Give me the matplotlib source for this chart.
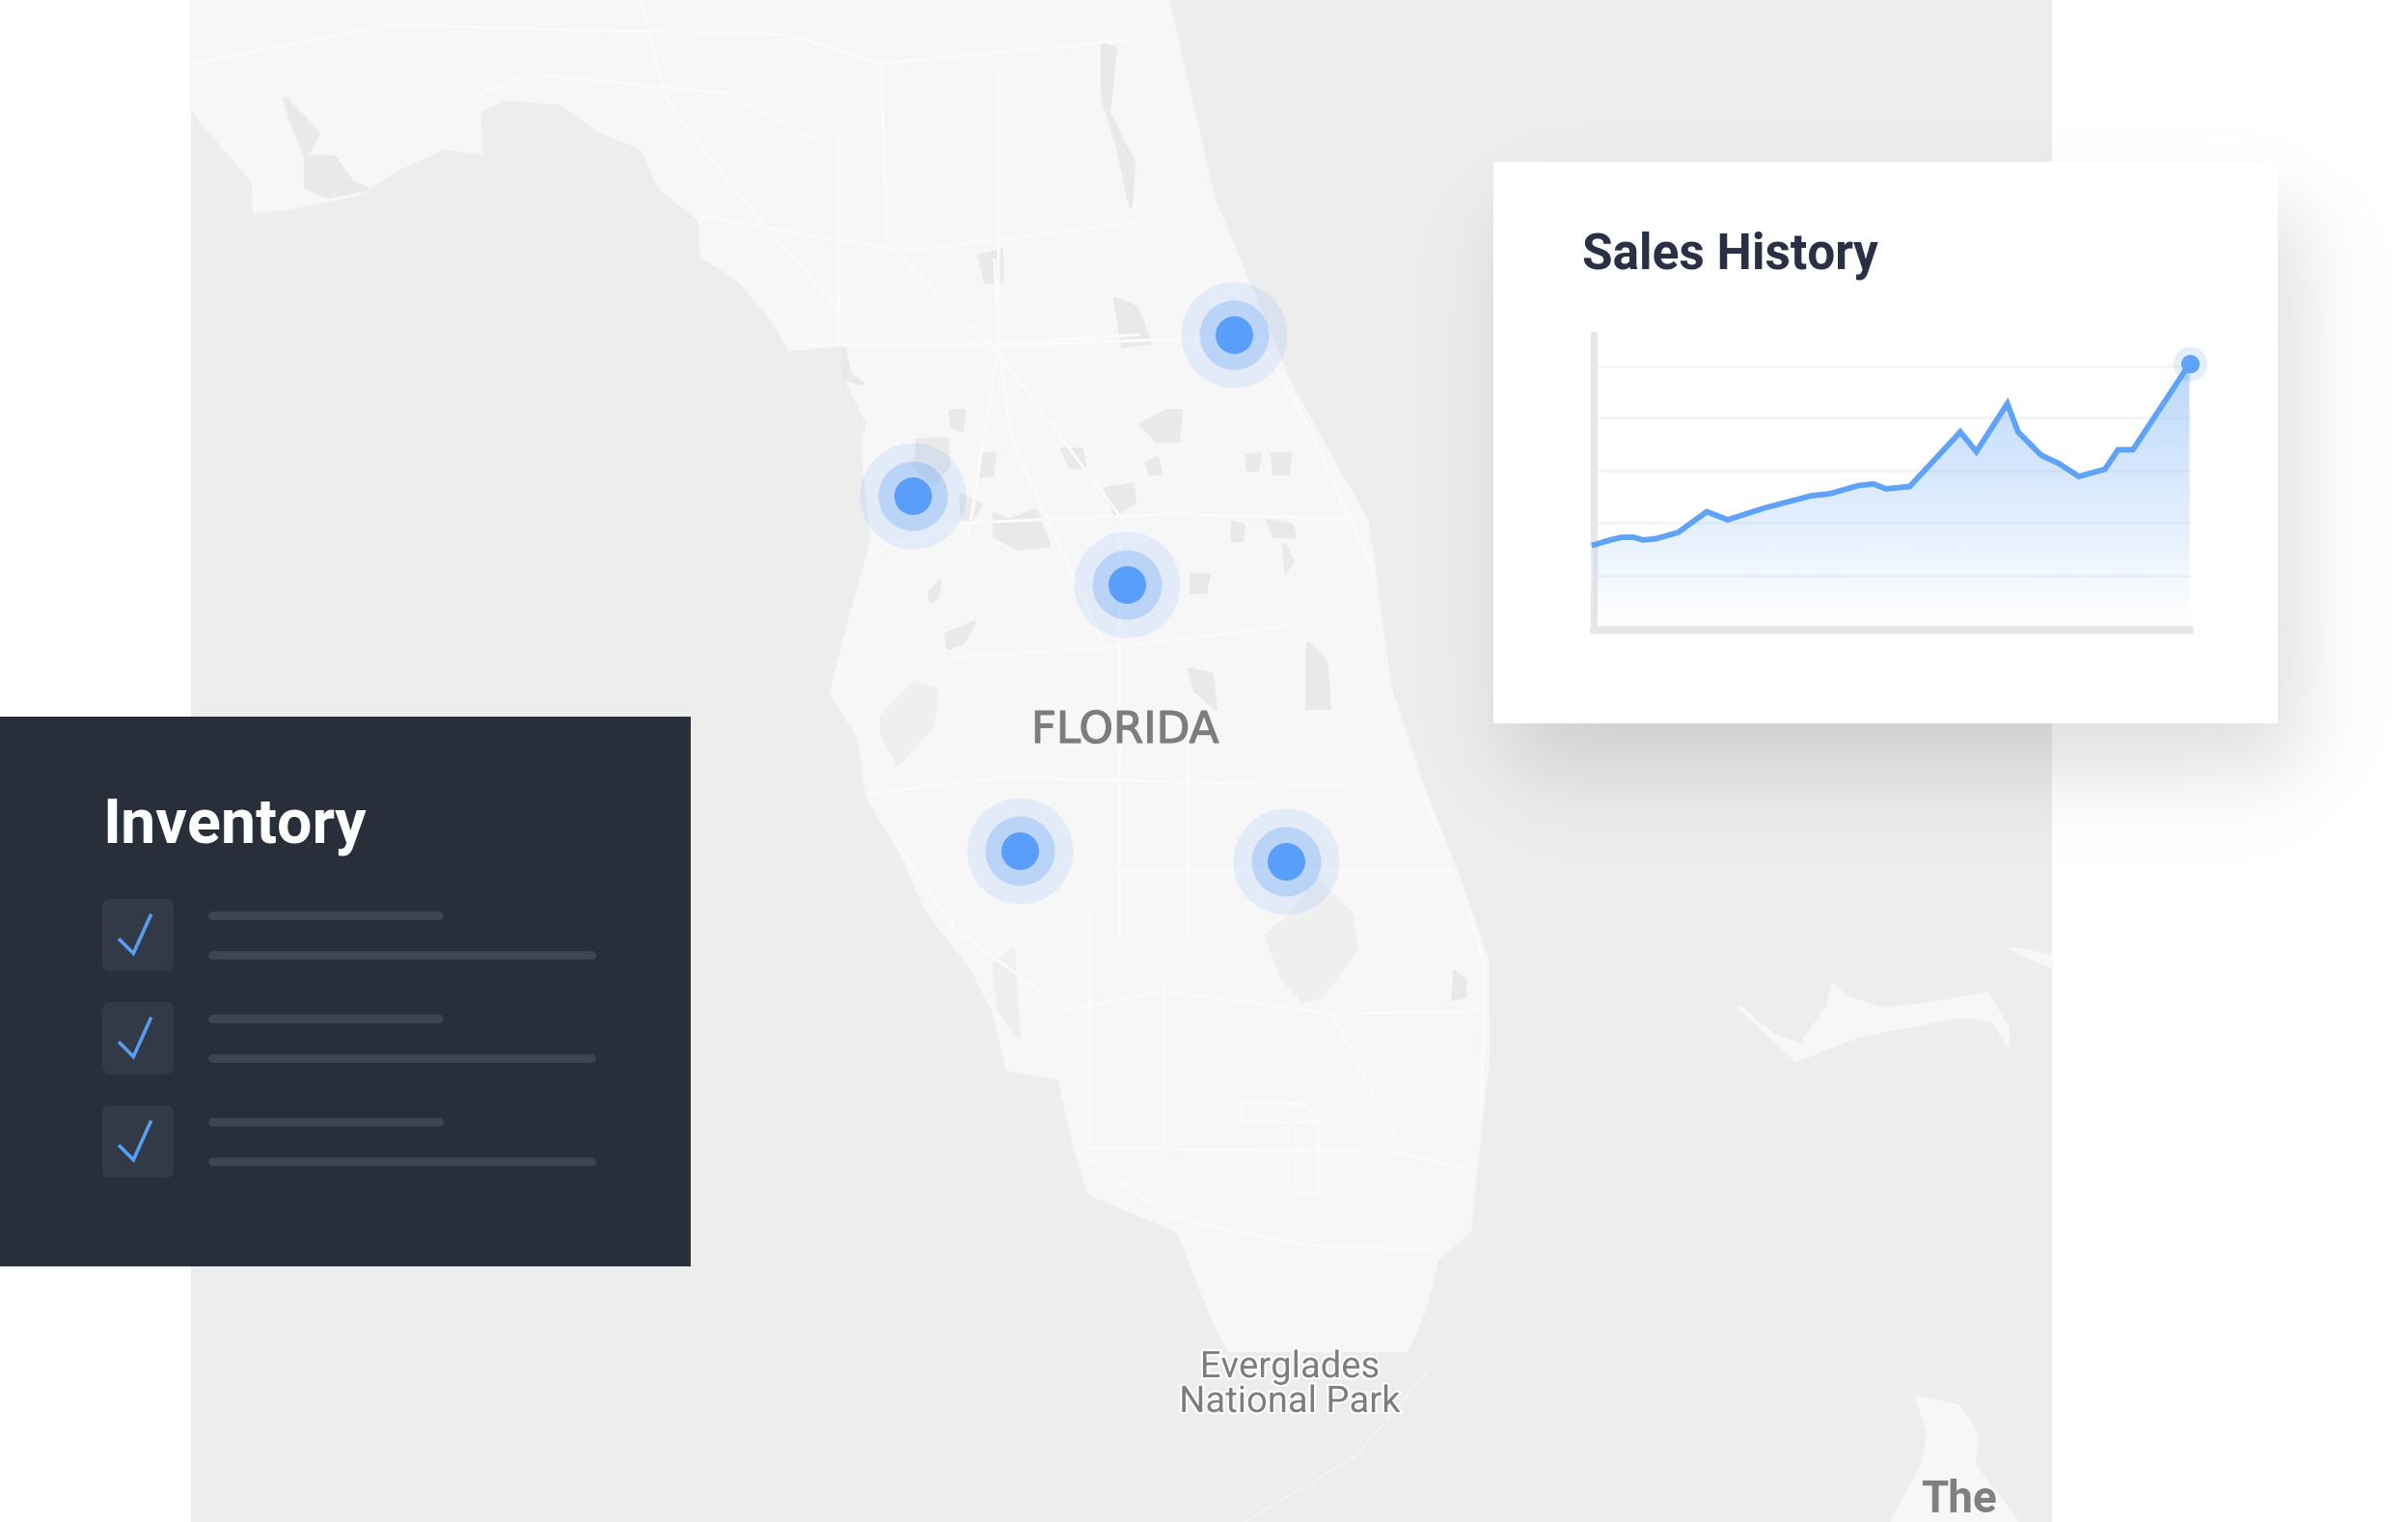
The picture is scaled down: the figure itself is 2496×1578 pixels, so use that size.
import numpy as np
import matplotlib
matplotlib.use("Agg")
import matplotlib.pyplot as plt
import matplotlib.patheffects as pe
from matplotlib.patches import Polygon, Rectangle, FancyBboxPatch

# ---------------------------------------------------------
# DATA
# ---------------------------------------------------------

# sales history line, x in percent of the period, y in percent of top gridline
sales_x = [0, 2.2, 4.5, 6.5, 8.2, 10.4, 14.1, 18.9, 22.4, 28.6, 36.5, 39.5, 44.3, 46.9,
           49, 53, 61.5, 64.2, 69.4, 71.2, 75.1, 78.1, 81.4, 85.8, 88, 90.5, 100]
sales_y = [31.7, 33.2, 34.5, 34.6, 33.5, 34.0, 36.4, 44.3, 41.2, 45.7, 50.4, 51.1, 54.2, 54.9,
           53.0, 53.9, 74.7, 67.2, 85.5, 74.7, 65.8, 62.6, 57.7, 60.5, 67.9, 67.9, 100.6]
grid_y = [100, 80, 60, 40, 20]

# store locations on the map
city_x = [1279, 946, 1168, 1057, 1333]
city_y = [347, 514, 606, 882, 893]

# map shapes, in image pixels
land_x = [198, 263, 264, 307, 371, 416, 460, 499, 496, 524, 582, 620, 665, 684, 725, 728, 767, 805, 818,
          875, 875, 900, 894, 904, 881, 862, 891, 899, 934, 961, 1007, 1030, 1045, 1098, 1114, 1129, 1221,
          1259, 1274, 1458, 1477, 1489, 1523, 1531, 1542, 1542, 1515, 1473, 1441, 1417, 1337, 1258, 1210, 198]
land_y = [112, 189, 219, 214, 201, 173, 153, 158, 115, 102, 107, 135, 153, 194, 227, 265, 291, 337, 362,
          357, 388, 439, 459, 561, 643, 719, 765, 825, 884, 944, 1003, 1048, 1108, 1118, 1187, 1237, 1276,
          1371, 1400, 1400, 1356, 1306, 1276, 1197, 1098, 998, 919, 812, 716, 541, 398, 207, 0, 0]

islands = [
    [(1804, 1045), (1837, 1073), (1867, 1084), (1895, 1043), (1900, 1021), (1913, 1034), (1954, 1047),
     (2020, 1038), (2060, 1030), (2081, 1066), (2081, 1082), (2065, 1058), (2035, 1053), (1928, 1073), (1862, 1099)],
    [(2086, 984), (2126, 991), (2126, 1002)],
    [(1987, 1449), (2030, 1458), (2050, 1488), (2045, 1518), (2091, 1578), (1961, 1578), (1994, 1518), (1999, 1484)],
]

lakes = [
    [(1031, 533), (1046, 540), (1074, 529), (1087, 565), (1056, 569), (1031, 556)],
    [(951, 457), (981, 455), (983, 484), (967, 502), (949, 484)],
    [(996, 513), (1017, 524), (1006, 540), (998, 538)],
    [(1019, 471), (1031, 471), (1028, 493), (1017, 493)],
    [(985, 426), (999, 426), (997, 446), (987, 442)],
    [(981, 658), (1010, 645), (999, 665), (983, 672)],
    [(964, 614), (974, 603), (971, 620), (965, 623)],
    [(1146, 507), (1174, 502), (1176, 520), (1156, 533)],
    [(1189, 480), (1199, 475), (1203, 491), (1192, 491)],
    [(1183, 440), (1210, 426), (1224, 426), (1221, 457), (1199, 457)],
    [(1101, 466), (1121, 466), (1124, 484), (1110, 484)],
    [(1156, 310), (1178, 319), (1192, 355), (1164, 359)],
    [(1319, 471), (1337, 471), (1335, 491), (1321, 491)],
    [(1292, 473), (1306, 471), (1303, 487), (1294, 487)],
    [(1278, 542), (1289, 545), (1287, 560), (1278, 560)],
    [(1314, 540), (1339, 545), (1342, 556), (1321, 556)],
    [(1331, 565), (1340, 582), (1333, 591)],
    [(1356, 667), (1374, 685), (1378, 734), (1355, 734)],
    [(1235, 596), (1253, 596), (1249, 614), (1235, 614)],
    [(1233, 694), (1256, 699), (1260, 734), (1239, 716)],
    [(1143, 46), (1156, 51), (1149, 117), (1175, 168), (1172, 214), (1159, 153), (1143, 102)],
    [(1015, 265), (1038, 260), (1038, 291), (1022, 293)],
    [(317, 163), (346, 163), (365, 189), (381, 196), (339, 204), (317, 194)],
    [(295, 102), (330, 138), (317, 163), (301, 122)],
    [(875, 362), (881, 388), (894, 398), (875, 393)],
    [(1508, 1008), (1518, 1016), (1518, 1033), (1506, 1036)],
]

# bays and the big lake, a bit lighter than the small lakes
water = [
    [(948, 707), (971, 716), (967, 752), (931, 792), (914, 761), (914, 743)],
    [(1313, 969), (1336, 951), (1366, 912), (1401, 949), (1405, 984), (1370, 1033), (1351, 1038), (1328, 1013)],
    [(1030, 1000), (1050, 985), (1056, 1075), (1036, 1048)],
]

roads = [
    [(1129, 1190), (1450, 1195), (1519, 1212)],
    [(1129, 1202), (1213, 1262), (1351, 1291), (1489, 1296)],
    [(1343, 1162), (1366, 1162), (1366, 1237), (1343, 1237), (1343, 1162)],
    [(1286, 1142), (1351, 1145), (1370, 1165), (1286, 1162), (1286, 1142)],
    [(1121, 904), (1504, 902)],
    [(1102, 1048), (1206, 1028), (1382, 1051), (1535, 1048)],
    [(1206, 1018), (1206, 1187)],
    [(1129, 944), (1129, 1187)],
    [(1382, 1053), (1450, 1187)],
    [(1477, 830), (1512, 904), (1538, 998), (1535, 1197)],
    [(892, 820), (938, 889), (991, 964), (1106, 1048)],
    [(896, 573), (1003, 542), (1217, 533), (1396, 538)],
    [(985, 681), (1146, 672), (1335, 649)],
    [(892, 824), (1039, 806), (1396, 815)],
    [(1031, 270), (1035, 359), (1049, 457), (1146, 672)],
    [(1035, 359), (1253, 350)],
    [(1160, 556), (1160, 970)],
    [(1231, 761), (1231, 970)],
    [(1278, 300), (1360, 450), (1450, 650), (1520, 850)],
    [(199, 66), (403, 26), (818, 36), (913, 66), (1175, 41)],
    [(499, 97), (550, 77), (754, 97), (843, 143)],
    [(728, 224), (843, 245), (945, 260), (1180, 230)],
    [(913, 66), (920, 255), (1028, 357), (1180, 561)],
    [(818, 357), (1028, 357), (1180, 347)],
    [(665, 0), (690, 102), (767, 204), (875, 327)],
    [(869, 143), (869, 357)],
    [(1035, 77), (1035, 357), (1003, 561)],
]
keys_road = [(1485, 1415), (1405, 1510), (1290, 1578)]

# inventory list rows
row_top = [932, 1039, 1146]

# ---------------------------------------------------------
# COLOURS
# ---------------------------------------------------------

SEA = "#ededed"
LAND = "#f7f7f7"
LAKE = "#e9e9e9"
BAY = "#efefef"
ROAD = "#fbfbfb"
BLUE = "#5a9efc"
PANEL = "#282e3a"
GREY_TEXT = "#7d7d7d"

# ---------------------------------------------------------
# FIGURE, one axes in image pixels
# ---------------------------------------------------------

fig = plt.figure(figsize=(24.96, 15.78), dpi=100, facecolor="white")
ax = fig.add_axes([0, 0, 1, 1])
ax.axis("off")


# round the polygon corners with a stroke in the fill colour
def blob(points, color, zorder):
    p = Polygon(points, fc=color, ec=color, lw=3, joinstyle="round", zorder=zorder)
    ax.add_patch(p)
    return p


# map
ax.add_patch(Rectangle((198, 0), 1929, 1578, fc=SEA, ec="none", zorder=1))
land = blob(list(zip(land_x, land_y)), LAND, 2)
for isl in islands:
    blob(isl, LAND, 2)
for w in water:
    blob(w, BAY, 3)
for lk in lakes:
    blob(lk, LAKE, 3)
for rd in roads:
    pts = np.array(rd)
    ln, = ax.plot(pts[:, 0], pts[:, 1], color=ROAD, lw=2.2, zorder=4)
    ln.set_clip_path(land)
pts = np.array(keys_road)
ax.plot(pts[:, 0], pts[:, 1], color="#f3f3f3", lw=1.5, zorder=4)

# store markers
for radius, alpha in [(55, 0.13), (36, 0.29), (19.5, 1.0)]:
    ax.scatter(city_x, city_y, s=(2 * radius * 0.72) ** 2, color=BLUE, alpha=alpha,
               linewidths=0, zorder=5)

# map labels
halo = [pe.withStroke(linewidth=3, foreground="white")]
heavy = [pe.withStroke(linewidth=0.9, foreground=GREY_TEXT)]
ax.text(1166, 770, "FLORIDA", ha="center", va="baseline", fontsize=32.5,
        family="DejaVu Sans", color=GREY_TEXT, path_effects=heavy, zorder=6)
ax.text(1337, 1428, "Everglades", ha="center", va="baseline", fontsize=27.5,
        family="Roboto", color=GREY_TEXT, path_effects=halo, zorder=6)
ax.text(1337, 1464, "National Park", ha="center", va="baseline", fontsize=27.5,
        family="Roboto", color=GREY_TEXT, path_effects=halo, zorder=6)
ax.text(2030, 1568, "The", ha="center", va="baseline", fontsize=33,
        family="Roboto", weight="bold", color="#808080", zorder=6)

# soft shadow under the sales card
sx = np.arange(1300, 2496)
sy = np.arange(0, 1000)
gx, gy = np.meshgrid(sx, sy)
soft = 0.5 * (np.tanh((gx - 1565) / 55) - np.tanh((gx - 2385) / 55))
soft = soft * 0.5 * (np.tanh((gy - 215) / 50) - np.tanh((gy - 800) / 55))
shadow = np.zeros(gx.shape + (4,))
shadow[..., 3] = 0.13 * soft
ax.imshow(shadow, extent=(1300, 2496, 1000, 0), aspect="auto", zorder=7, interpolation="bilinear")

# sales card
ax.add_patch(Rectangle((1548, 168), 813, 582, fc="white", ec="none", zorder=8))
ax.text(1640, 278, "Sales History", ha="left", va="baseline", fontsize=37,
        family="Roboto", weight="bold", color="#2b2f45", zorder=9)
ax.add_patch(FancyBboxPatch((1649, 344), 7, 312, boxstyle="round,pad=0,rounding_size=3",
                            fc="#e6e7e8", ec="none", zorder=9))
ax.add_patch(FancyBboxPatch((1648, 649), 626, 8.5, boxstyle="round,pad=0,rounding_size=3",
                            fc="#e6e7e8", ec="none", zorder=9))

# inventory panel
ax.add_patch(Rectangle((0, 743), 716, 570, fc=PANEL, ec="none", zorder=8))
ax.text(106, 873, "Inventory", ha="left", va="baseline", fontsize=46.5,
        family="Roboto", weight="bold", color="white", zorder=9)
for top in row_top:
    ax.add_patch(FancyBboxPatch((106, top), 74, 75, boxstyle="round,pad=0,rounding_size=8",
                                fc="#313a46", ec="none", zorder=9))
    ax.plot([124.3, 138.3, 156], [top + 42.5, top + 56.5, top + 17.3], color="#5a9cf0", lw=2.6,
            solid_joinstyle="miter", zorder=10)
    ax.plot([220, 455], [top + 17, top + 17], color="#3e4551", lw=6.4, solid_capstyle="round", zorder=10)
    ax.plot([220, 613], [top + 58, top + 58], color="#3e4551", lw=6.4, solid_capstyle="round", zorder=10)

ax.set_xlim(0, 2496)
ax.set_ylim(1578, 0)

# ---------------------------------------------------------
# SALES CHART, its own axes on top of the card
# ---------------------------------------------------------

ax2 = fig.add_axes([1652.5 / 2496, 1 - 651 / 1578, 617 / 2496, 272 / 1578])
ax2.axis("off")
ax2.patch.set_alpha(0)
ax2.hlines(grid_y, 0.6, 100, color="#f4f4f4", lw=2, zorder=1)

fill = ax2.fill_between(sales_x, sales_y, 0, color="none")
grad = np.zeros((256, 2, 4))
grad[..., 0] = 0x5e / 255
grad[..., 1] = 0xa3 / 255
grad[..., 2] = 0xf8 / 255
grad[..., 3] = np.linspace(0, 0.42, 256)[:, None]
img = ax2.imshow(grad, extent=(0, 100, 0, 100), origin="lower", aspect="auto", zorder=2)
img.set_clip_path(fill.get_paths()[0], transform=ax2.transData)

ax2.plot(sales_x, sales_y, color="#5ea3f8", lw=4.2, solid_joinstyle="miter", clip_on=False, zorder=3)
ax2.scatter(sales_x[-1], sales_y[-1], s=650, color="#5ea3f8", alpha=0.17, linewidths=0, clip_on=False, zorder=3)
ax2.scatter(sales_x[-1], sales_y[-1], s=190, color="#5ea3f8", linewidths=0, clip_on=False, zorder=4)
ax2.set_xlim(0, 100)
ax2.set_ylim(0, 100)

fig.savefig("out.png", dpi=100)
